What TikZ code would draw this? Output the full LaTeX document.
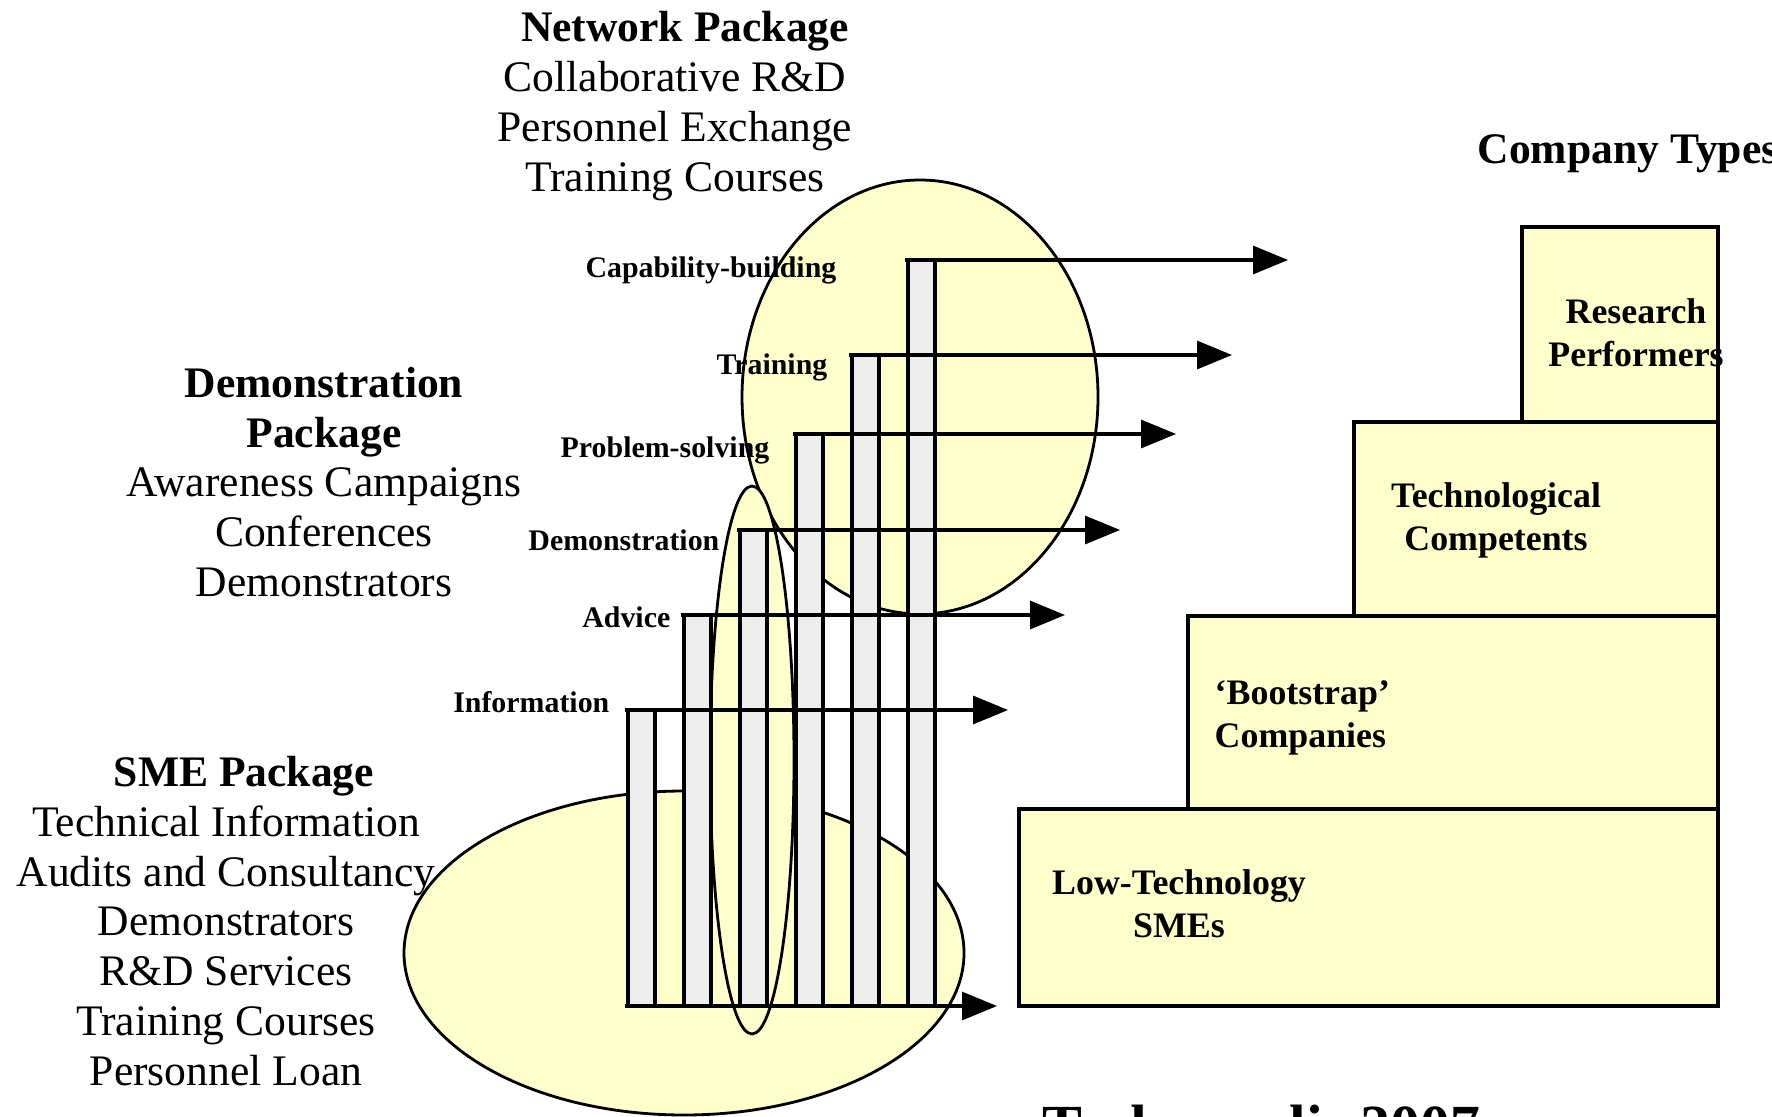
\documentclass[tikz,border=0pt]{standalone}
\usepackage{fontspec}
\setmainfont{Liberation Serif}
\usetikzlibrary{arrows.meta}
\definecolor{paleyel}{HTML}{FFFFCC}
\definecolor{bargray}{HTML}{EDEDED}
\begin{document}
\begin{tikzpicture}[
    x=0.1mm, y=-0.1mm,
    blob/.style={fill=paleyel, draw=black, line width=0.8pt},
    bar/.style={rectangle, fill=bargray, draw=black, line width=0.9pt, minimum width=2.7mm, inner sep=0pt, outer sep=0pt, anchor=south west},
    flow/.style={draw=black, line width=0.9pt, -{Triangle[length=3.5mm, width=2.8mm]}},
    ctype/.style={rectangle, fill=paleyel, draw=black, line width=0.9pt, inner sep=0pt, outer sep=0pt, anchor=north west},
    pkg/.style={font=\fontsize{12.4}{14.2}\selectfont, align=center, inner sep=0pt},
    lvl/.style={font=\fontsize{8.5}{10}\selectfont\bfseries, anchor=east, inner sep=0pt},
    tlab/.style={font=\fontsize{10.2}{12.2}\selectfont\bfseries, align=center, inner sep=0pt}]
  \useasboundingbox (0,0) rectangle (1772,1117);
  % the three packages as overlapping regions
  \draw[blob] (684,953) ellipse [x radius=280, y radius=162];
  \draw[blob] (920,397) ellipse [x radius=178, y radius=217];
  \draw[blob] (752,760) ellipse [x radius=42, y radius=274];
  % levels of support
  \foreach \i/\x/\top in {1/628/710, 2/684/615, 3/740/530, 4/796/434, 5/852/355, 6/908/260}
    \node[bar, minimum height={(1006-\top)*0.1mm}] (b\i) at (\x,1006) {};
  \foreach \i/\tip/\txt/\lx/\ly in {1/1008/Information/610/702, 2/1065/Advice/671/617,
      3/1120/Demonstration/720/540, 4/1176/Problem-solving/770/450,
      5/1232/Training/828/367, 6/1288/Capability-building/837/270} {
    \coordinate (t\i) at (\tip,0 |- b\i.north);
    \draw[flow] ([xshift=-0.3mm]b\i.north west) -- (t\i -| \tip,0);
    \node[lvl] (l\i) at (\lx,\ly) {\txt};
  }
  \coordinate (base) at (997,1006);
  \draw[flow] ([xshift=-0.3mm]b1.south west) -- (base);
  % company types as steps
  \node[ctype, minimum width=69.9mm, minimum height=19.7mm] (low)  at (1019,809) {};
  \node[ctype, minimum width=53mm,   minimum height=19.3mm] (boot) at (1188,616) {};
  \node[ctype, minimum width=36.4mm, minimum height=19.4mm] (tech) at (1354,422) {};
  \node[ctype, minimum width=19.6mm, minimum height=19.5mm] (res)  at (1522,227) {};
  \node[tlab] (lowlab) at (1179,904) {Low-Technology\\SMEs};
  \node[tlab, align=left, anchor=west] (bootlab) at (1214,718) {`Bootstrap'\\Companies};
  \node[tlab] (techlab) at (1496,520) {Technological\\Competents};
  \node[tlab] (reslab) at (1636,333) {Research\\Performers};
  \node[pkg, anchor=west] (types) at (1477,154) {\textbf{Company Types}};
  % package contents
  \node[pkg] (netpkg) at (675,106) {\hspace*{2mm}\textbf{Network Package}\\Collaborative R\&D\\Personnel Exchange\\Training Courses};
  \node[pkg] (demopkg) at (324,482) {\textbf{Demonstration}\\\textbf{Package}\\Awareness Campaigns\\Conferences\\Demonstrators};
  \node[pkg] (smepkg) at (226,921) {\hspace*{3.6mm}\textbf{SME Package}\\Technical Information\\Audits and Consultancy\\Demonstrators\\R\&D Services\\Training Courses\\Personnel Loan};
  \node[font=\fontsize{17}{20}\selectfont\bfseries, anchor=north west, inner sep=0pt] (src) at (1042,1104) {Technopolis 2007};
\end{tikzpicture}
\end{document}
